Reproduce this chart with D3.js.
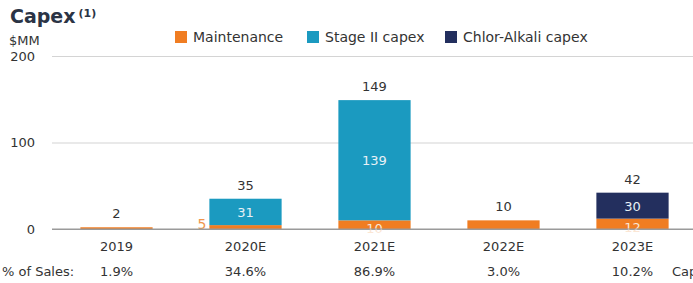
<!DOCTYPE html>
<html lang="en">
<head>
<meta charset="UTF-8">
<title>Capex</title>
<script src="https://d3js.org/d3.v7.min.js"></script>
<style>
  body { margin: 0; background: #fff; }
  svg { font-family: "DejaVu Sans", sans-serif; }
</style>
</head>
<body>
<div id="chart"></div>
<script>
// data
const years = ["2019", "2020E", "2021E", "2022E", "2023E"];
const maintenance = [2, 4.5, 10, 10, 12];
const stageII = [0, 30.5, 139, 0, 0];
const chlorAlkali = [0, 0, 0, 0, 30];
const salesPct = ["1.9%", "34.6%", "86.9%", "3.0%", "10.2%"];
const yTicks = [0, 100, 200];
const seriesNames = ["Maintenance", "Stage II capex", "Chlor-Alkali capex"];
const colors = ["#F07D22", "#1B9AC0", "#232F5E"];

const W = 693, H = 283;
const svg = d3.select("#chart").append("svg").attr("width", W).attr("height", H);

const x = d3.scaleBand().domain(years).range([52, 697]).paddingInner(0.44).paddingOuter(0.22);
const y = d3.scaleLinear().domain([0, 200]).range([229, 56]);

// title
const title = svg.append("text").attr("x", 10).attr("y", 23)
  .attr("fill", "#2B3445").style("font-size", "19px").style("font-weight", "bold")
  .text("Capex");
title.append("tspan").attr("dy", -6).attr("dx", 3).style("font-size", "11px").text("(1)");
svg.append("text").attr("x", 9).attr("y", 45).attr("fill", "#333")
  .style("font-size", "13px").text("$MM");

// y axis (gridlines + labels)
const yAxis = svg.append("g").attr("transform", "translate(52,0)")
  .call(d3.axisLeft(y).tickValues(yTicks).tickSize(-(W - 52)).tickPadding(17));
yAxis.select(".domain").remove();
yAxis.selectAll(".tick line").attr("stroke", d => d === 0 ? "#9a9a9a" : "#d4d4d4").attr("stroke-width", 1.2);
yAxis.selectAll(".tick text").attr("fill", "#333").style("font-size", "13px")
  .style("font-family", "DejaVu Sans, sans-serif");

// stacked bars
const rows = years.map((yr, i) => ({ year: yr, m: maintenance[i], s: stageII[i], c: chlorAlkali[i] }));
const stack = d3.stack().keys(["m", "s", "c"])(rows);

stack.forEach((layer, k) => {
  svg.append("g").selectAll("rect").data(layer).join("rect")
    .attr("x", d => x(d.data.year))
    .attr("width", x.bandwidth())
    .attr("y", d => y(d[1]))
    .attr("height", d => y(d[0]) - y(d[1]))
    .attr("fill", colors[k]);
});

// segment labels (only for stacked bars)
const multi = rows.filter(r => (r.s + r.c) > 0);
multi.forEach(r => {
  const cx = x(r.year) + x.bandwidth() / 2;
  const top = r.s > 0 ? r.s : r.c;
  svg.append("text").attr("x", cx).attr("y", y(r.m + top / 2) + 5)
    .attr("text-anchor", "middle").attr("fill", "#e8f1f6").style("font-size", "13px")
    .text(Math.round(top));
  if (r.m >= 8) {
    svg.append("text").attr("x", cx).attr("y", y(r.m / 2) + 8)
      .attr("text-anchor", "middle").attr("fill", "#fbe6d4").style("font-size", "13px")
      .text(Math.round(r.m));
  } else {
    svg.append("text").attr("x", x(r.year) - 3).attr("y", y(r.m / 2) + 2)
      .attr("text-anchor", "end").attr("fill", "#F0964E").style("font-size", "14px")
      .text(Math.round(r.m));
  }
});
// re-draw baseline over labels
svg.append("line").attr("x1", 52).attr("x2", W).attr("y1", y(0)).attr("y2", y(0))
  .attr("stroke", "#9a9a9a").attr("stroke-width", 1.2);

// totals
svg.append("g").selectAll("text").data(rows).join("text")
  .attr("x", d => x(d.year) + x.bandwidth() / 2)
  .attr("y", d => y(d.m + d.s + d.c) - 9)
  .attr("text-anchor", "middle").attr("fill", "#333").style("font-size", "13px")
  .text(d => Math.round(d.m + d.s + d.c));

// category labels
svg.append("g").selectAll("text").data(years).join("text")
  .attr("x", d => x(d) + x.bandwidth() / 2).attr("y", 251)
  .attr("text-anchor", "middle").attr("fill", "#333").style("font-size", "13px")
  .text(d => d);

// % of sales row
svg.append("text").attr("x", 2).attr("y", 276).attr("fill", "#333")
  .style("font-size", "13px").text("% of Sales:");
svg.append("g").selectAll("text").data(salesPct).join("text")
  .attr("x", (d, i) => x(years[i]) + x.bandwidth() / 2).attr("y", 276)
  .attr("text-anchor", "middle").attr("fill", "#333").style("font-size", "13px")
  .text(d => d);
svg.append("text").attr("x", 672).attr("y", 276).attr("fill", "#333")
  .style("font-size", "13px").text("Capex / Sales");

// legend
const legX = [175, 307, 445];
const leg = svg.append("g").selectAll("g").data(seriesNames).join("g")
  .attr("transform", (d, i) => `translate(${legX[i]},31)`);
leg.append("rect").attr("width", 12).attr("height", 12).attr("fill", (d, i) => colors[i]);
leg.append("text").attr("x", 18).attr("y", 11).attr("fill", "#333")
  .style("font-size", "14px").text(d => d);
</script>
</body>
</html>
